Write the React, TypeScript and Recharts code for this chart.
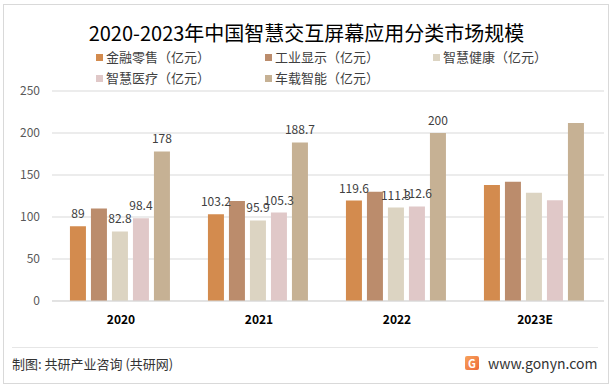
import React from 'react';
import { BarChart, Bar, XAxis, YAxis, CartesianGrid, LabelList } from 'recharts';

const years = ['2020', '2021', '2022', '2023E'];

const finance = [89, 103.2, 119.6, 138];
const industry = [110, 119, 130, 142];
const health = [82.8, 95.9, 111.3, 129];
const medical = [98.4, 105.3, 112.6, 120];
const vehicle = [178, 188.7, 200, 212];

// labels shown on the picture (2023E and 工业显示 carry none)
const financeLabels = ['89', '103.2', '119.6', null];
const healthLabels = ['82.8', '95.9', '111.3', null];
const medicalLabels = ['98.4', '105.3', '112.6', null];
const vehicleLabels = ['178', '188.7', '200', null];

const yTicks = [0, 50, 100, 150, 200, 250];

const series = [
  { key: 'finance', name: '金融零售（亿元）', color: '#D38B4E', labels: financeLabels },
  { key: 'industry', name: '工业显示（亿元）', color: '#BB8C6C', labels: null },
  { key: 'health', name: '智慧健康（亿元）', color: '#DCD4C2', labels: healthLabels },
  { key: 'medical', name: '智慧医疗（亿元）', color: '#E0C8C8', labels: medicalLabels },
  { key: 'vehicle', name: '车载智能（亿元）', color: '#C6B194', labels: vehicleLabels },
];

const data = years.map((y, i) => ({
  year: y,
  finance: finance[i],
  industry: industry[i],
  health: health[i],
  medical: medical[i],
  vehicle: vehicle[i],
  financeLabel: financeLabels[i],
  healthLabel: healthLabels[i],
  medicalLabel: medicalLabels[i],
  vehicleLabel: vehicleLabels[i],
}));

const font = '"Microsoft YaHei", "Noto Sans CJK SC", "Noto Sans", sans-serif';

const legendPos = [
  { left: 96, top: 48 },
  { left: 265, top: 48 },
  { left: 433, top: 48 },
  { left: 96, top: 69 },
  { left: 265, top: 69 },
];

const App: React.FC = () => {
  return (
    <div style={{ position: 'absolute', left: 0, top: 0, width: 613, height: 385, background: '#fff', fontFamily: font }}>
      <div style={{ position: 'absolute', left: 3, top: 4, width: 604, height: 378, border: '1px solid #d9d9d9' }} />
      <div style={{ position: 'absolute', left: 0, top: 20, width: 613, textAlign: 'center', fontSize: 20, lineHeight: '26px', color: '#000' }}>
        2020-2023年中国智慧交互屏幕应用分类市场规模
      </div>
      {series.map((s, i) => (
        <div key={s.key} style={{ position: 'absolute', left: legendPos[i].left, top: legendPos[i].top, display: 'flex', alignItems: 'center', fontSize: 13, lineHeight: '18px', color: '#404040' }}>
          <span style={{ display: 'inline-block', width: 7, height: 7, background: s.color, marginRight: 3 }} />
          {s.name}
        </div>
      ))}
      <div style={{ position: 'absolute', left: 0, top: 0 }}>
        <BarChart width={613} height={385} data={data} margin={{ top: 91, right: 9, bottom: 54, left: 22 }} barCategoryGap="13%" barGap={5}>
          <CartesianGrid vertical={false} stroke="#d9d9d9" />
          <XAxis dataKey="year" axisLine={{ stroke: '#d9d9d9' }} tickLine={false} tickMargin={8}
            tick={{ fill: '#000', fontSize: 12, fontWeight: 'bold', fontFamily: font }} />
          <YAxis domain={[0, 250]} ticks={yTicks} width={30} axisLine={false} tickLine={false} tickMargin={6}
            tick={{ fill: '#595959', fontSize: 12, fontFamily: font }} />
          {series.map((s) => (
            <Bar key={s.key} dataKey={s.key} fill={s.color} isAnimationActive={false}>
              {s.labels && (
                <LabelList dataKey={`${s.key}Label`} position="top" offset={8}
                  style={{ fill: '#404040', fontSize: 12, fontFamily: font }} />
              )}
            </Bar>
          ))}
        </BarChart>
      </div>
      <div style={{ position: 'absolute', left: 12, top: 347, width: 586, borderTop: '1px solid #e6e6e6' }} />
      <div style={{ position: 'absolute', left: 12, top: 354, fontSize: 13, color: '#333' }}>
        制图: 共研产业咨询 (共研网)
      </div>
      <div style={{ position: 'absolute', left: 465, top: 356, width: 14, height: 14, background: 'linear-gradient(135deg, #F7A35C, #EE6A3A)', borderRadius: 2, color: '#fff', fontSize: 11, fontWeight: 'bold', textAlign: 'center', lineHeight: '14px' }}>
        G
      </div>
      <div style={{ position: 'absolute', left: 488, top: 353, fontSize: 14, color: '#333' }}>
        www.gonyn.com
      </div>
    </div>
  );
};

export default App;
